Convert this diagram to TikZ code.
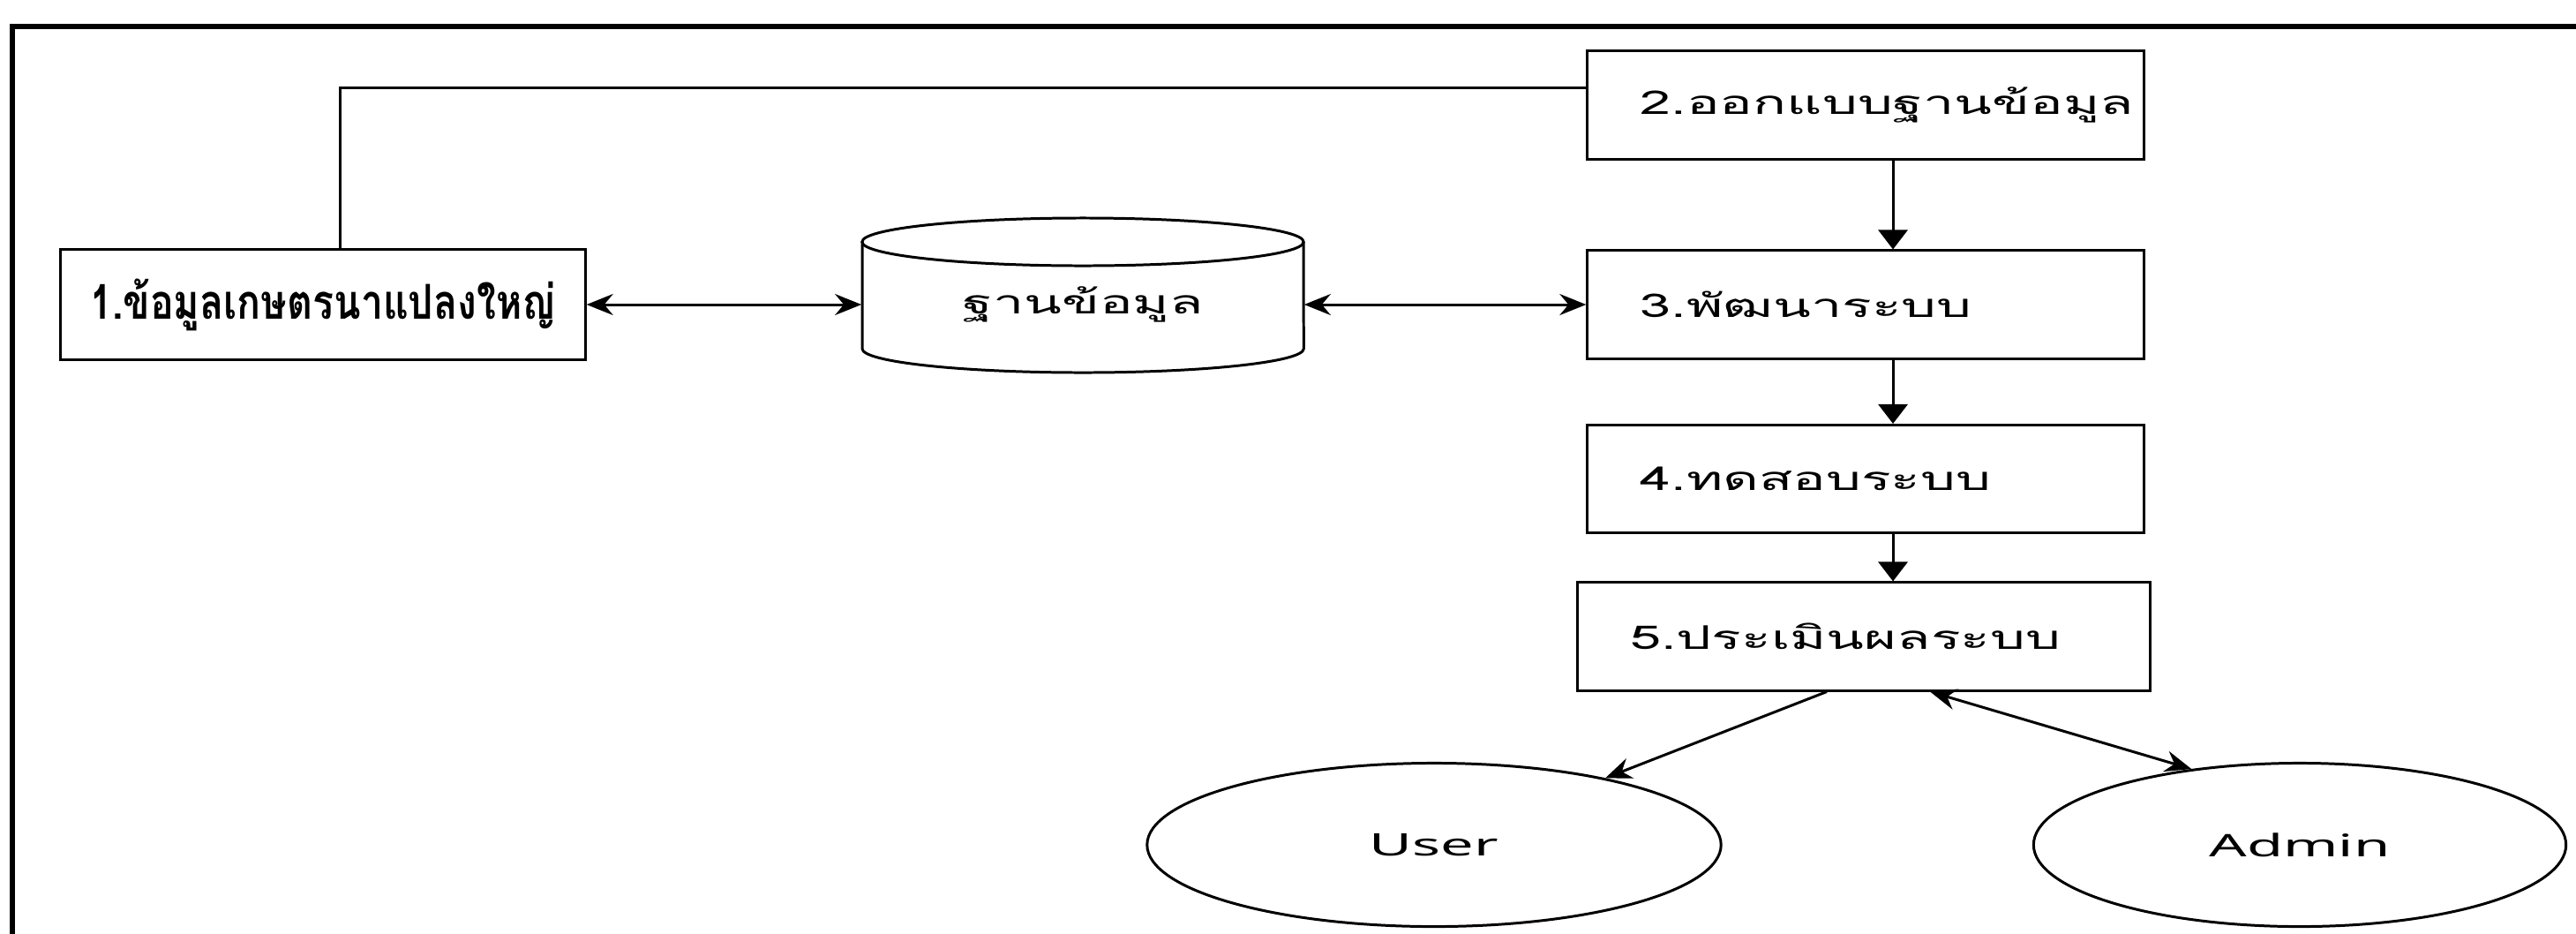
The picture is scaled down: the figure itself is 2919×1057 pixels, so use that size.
\documentclass[tikz,border=0pt]{standalone}
\usepackage{fontspec}
\usepackage{tikz}
\usetikzlibrary{
  arrows.meta,
  shapes,
}
\newfontfamily\thaifont[Script=Thai, FakeStretch=1.7]{Loma}
\newfontfamily\thaibold[Script=Thai, FakeStretch=0.82]{Loma}
\newfontfamily\actorfont[FakeStretch=1.9]{Noto Sans}
\tikzstyle{stepbox} = [
  draw,
  rectangle,
  line width=0.85pt,
  minimum height=1.22cm,
  inner xsep=0.6cm,
  inner ysep=0pt,
  text width=5.1cm,
  align=left,
  font=\thaifont\fontsize{10.5pt}{12pt}\selectfont,
]
\tikzstyle{sourcebox} = [
  draw,
  rectangle,
  line width=0.85pt,
  minimum width=5.94cm,
  minimum height=1.25cm,
  inner sep=0pt,
  font=\thaibold\bfseries\fontsize{15.5pt}{17pt}\selectfont,
]
\tikzstyle{actor} = [
  draw,
  ellipse,
  line width=0.85pt,
  minimum width=6.5cm,
  minimum height=1.85cm,
  inner sep=0pt,
  font=\actorfont\fontsize{10pt}{12pt}\selectfont,
]
\tikzstyle{flow} = [
  -{Triangle[width=0.33cm, length=0.22cm]},
  line width=0.85pt,
]
\tikzstyle{oneway} = [
  -{Stealth[length=0.3cm, width=0.24cm, inset=0.1cm]},
  line width=0.85pt,
]
\tikzstyle{twoway} = [
  {Stealth[length=0.3cm, width=0.24cm, inset=0.1cm]}-{Stealth[length=0.3cm, width=0.24cm, inset=0.1cm]},
  line width=0.85pt,
]

\begin{document}
\begin{tikzpicture}[x=0.01cm, y=-0.01cm]

        \useasboundingbox (0,0) rectangle (2919,1057);

        \draw [line width=1.7pt] (14,30) rectangle (2926,1066);

        \node [sourcebox] (farm) at (366,345) {1.ข้อมูลเกษตรนาแปลงใหญ่};

        \node [stepbox] (design) at (2114,119) {2.ออกแบบฐานข้อมูล};

        \node [stepbox] (develop) at (2114,345) {3.พัฒนาระบบ};

        \node [stepbox] (test) at (2114,542.5) {4.ทดสอบระบบ};

        \node [stepbox, text width=5.29cm] (evaluate) at (2112,721) {5.ประเมินผลระบบ};

        \node [minimum width=5cm, minimum height=1.5cm, inner sep=0pt,
               font=\thaifont\fontsize{10.5pt}{12pt}\selectfont] (db) at (1227,345) {ฐานข้อมูล};

        \draw [line width=0.85pt] (977,274) -- (977,395)
              arc [start angle=180, end angle=360, x radius=2.5cm, y radius=0.27cm]
              -- (1477,274);

        \draw [line width=0.85pt] (1227,274) ellipse [x radius=2.5cm, y radius=0.27cm];

        \node [actor] (user) at (1625,957) {User};

        \node [actor, minimum width=6.03cm] (admin) at (2606,957) {Admin};

        \draw [twoway] (farm.east) -- (db.west);

        \draw [twoway] (db.east) -- (develop.west);

        \draw [line width=0.85pt] ([xshift=0.19cm]farm.north) |- ([yshift=0.19cm]design.west);

        \draw [flow] ([xshift=0.31cm]design.south) -- ([xshift=0.31cm]develop.north);

        \draw [flow] ([xshift=0.31cm]develop.south) -- ([xshift=0.31cm]test.north);

        \draw [flow] ([xshift=0.31cm]test.south) -- ([xshift=0.31cm]test.south |- evaluate.north);

        \draw [oneway] ([xshift=-0.42cm]evaluate.south) -- (user);

        \draw [twoway] ([xshift=0.75cm]evaluate.south) -- (admin.145);
      \end{tikzpicture}
\end{document}
